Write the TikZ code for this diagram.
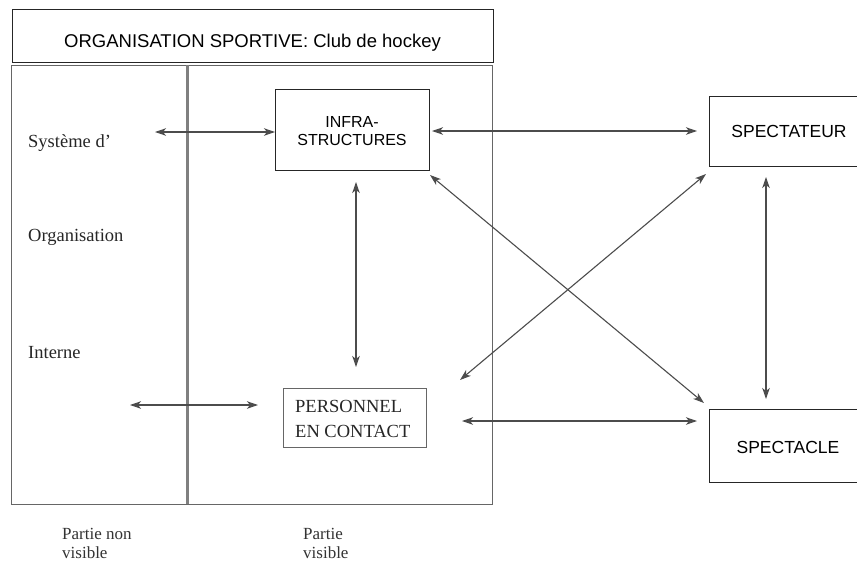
\documentclass[tikz,border=0pt]{standalone}
\usepackage{fontspec}
\setmainfont{Liberation Serif}
\newfontfamily\headfont{Liberation Sans}
\usetikzlibrary{arrows.meta}
\begin{document}
\begin{tikzpicture}[x=1pt,y=-1pt,
  box/.style={draw=black!85, line width=1pt, inner sep=0pt, anchor=north west},
  softbox/.style={draw=black!60, line width=0.9pt, inner sep=0pt, anchor=north west},
  link/.style={draw=black!70, line width=1.1pt,
    {Stealth[length=11pt,width=7.5pt,inset=3pt]}-{Stealth[length=11pt,width=7.5pt,inset=3pt]}},
  titletext/.style={font=\headfont\fontsize{18.5}{22}\selectfont, anchor=base, inner sep=0pt},
  sanstext/.style={font=\headfont\fontsize{16}{19}\selectfont, anchor=base, inner sep=0pt},
  bigsans/.style={font=\headfont\fontsize{17.5}{21}\selectfont, anchor=base, inner sep=0pt},
  seriftext/.style={font=\fontsize{18.5}{22}\selectfont, anchor=base west, inner sep=0pt, text=black!85},
  smallserif/.style={font=\fontsize{17}{20}\selectfont, anchor=base west, inner sep=0pt, text=black!80},
]
\useasboundingbox (0,0) rectangle (857,560);
\clip (0,0) rectangle (857,560);

% heading band
\node[box, minimum width=481pt, minimum height=53pt] (title) at (12,9) {};
\node[titletext] (titlelabel) at (252.5,47) {ORGANISATION SPORTIVE: Club de hockey};

% organisation frame and the visible / non-visible divider
\node[softbox, minimum width=481pt, minimum height=439pt] (org) at (11,65) {};
\draw[line width=3pt, black!50] (187,65) -- (187,504);

% boxes
\node[box, minimum width=154pt, minimum height=81pt] (infra) at (275,89) {};
\node[sanstext] (infraA) at (352,127) {INFRA-};
\node[sanstext] (infraB) at (352,145) {STRUCTURES};

\node[softbox, minimum width=143pt, minimum height=59pt] (perso) at (283,388) {};
\node[seriftext] (persoA) at (295,412) {PERSONNEL};
\node[seriftext] (persoB) at (295,437) {EN CONTACT};

\node[box, minimum width=171pt, minimum height=70pt] (spectateur) at (709,96) {};
\node[bigsans] (spectateurlabel) at (789,137.5) {SPECTATEUR};

\node[box, minimum width=171pt, minimum height=73pt] (spectacle) at (709,409) {};
\node[bigsans] (spectaclelabel) at (788,453) {SPECTACLE};

% side labels
\node[seriftext] (sys) at (28,147) {Système d'};
\node[seriftext] (orga) at (28,241) {Organisation};
\node[seriftext] (interne) at (28,358) {Interne};
\node[smallserif] (pnv1) at (62,539) {Partie non};
\node[smallserif] (pnv2) at (62,558) {visible};
\node[smallserif] (pv1) at (303,539) {Partie};
\node[smallserif] (pv2) at (303,558) {visible};

% arrow end points
\coordinate (sysEnd) at (155,132);
\coordinate (infraW) at (275,132);
\coordinate (infraE) at (432,131);
\coordinate (specteurW) at (697,131);
\coordinate (infraS) at (356,182);
\coordinate (persoN) at (356,367);
\coordinate (backEnd) at (130,405);
\coordinate (persoW) at (258,405);
\coordinate (persoE) at (462,421);
\coordinate (spectacleW) at (697,421);
\coordinate (specteurS) at (766,177);
\coordinate (spectacleN) at (766,399);
\coordinate (infraSE) at (430,175);
\coordinate (spectacleNW) at (704,403);
\coordinate (specteurSW) at (706,174);
\coordinate (persoNE) at (460,380);

% connectors
\draw[link] (sysEnd) -- (infraW);
\draw[link] (infraE) -- (specteurW);
\draw[link] (infraS) -- (persoN);
\draw[link] (backEnd) -- (persoW);
\draw[link] (persoE) -- (spectacleW);
\draw[link] (specteurS) -- (spectacleN);
\draw[link] (infraSE) -- (spectacleNW);
\draw[link] (specteurSW) -- (persoNE);
\end{tikzpicture}
\end{document}
